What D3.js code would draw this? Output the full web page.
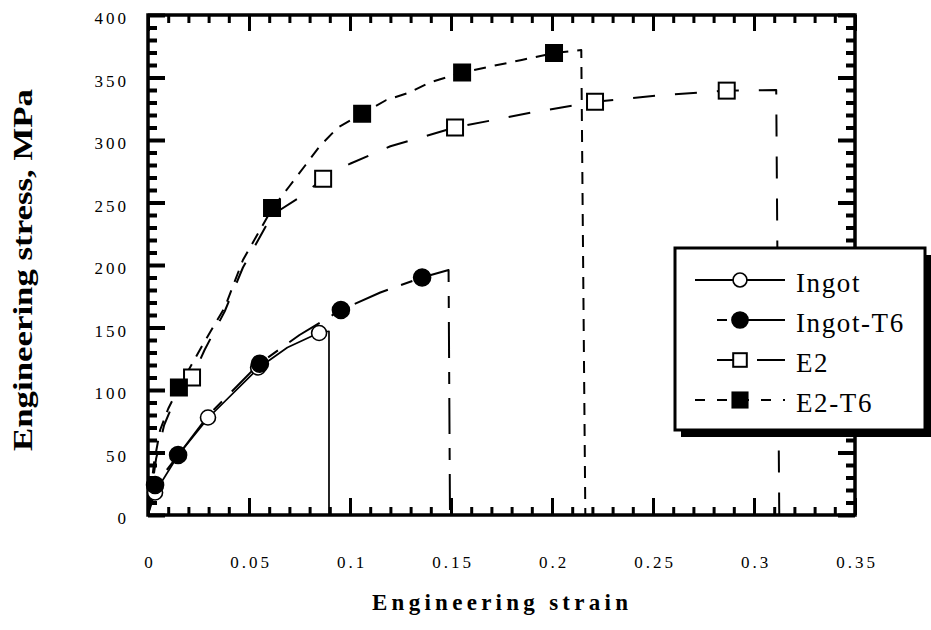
<!DOCTYPE html>
<html><head><meta charset="utf-8">
<script src="https://cdn.jsdelivr.net/npm/d3@7"></script>
<style>body{margin:0;background:#fff}svg{display:block}</style>
</head><body>
<svg id="chart" width="931" height="630"></svg>
<script>
// ---------- data ----------
const xTickValues = [0, 0.05, 0.1, 0.15, 0.2, 0.25, 0.3, 0.35];
const xTickLabels = ["0", "0.05", "0.1", "0.15", "0.2", "0.25", "0.3", "0.35"];
const yTickValues = [0, 50, 100, 150, 200, 250, 300, 350, 400];
const yTickLabels = ["0", "50", "100", "150", "200", "250", "300", "350", "400"];
const seriesNames = ["Ingot", "Ingot-T6", "E2", "E2-T6"];

const ingotCurveStrain = [0, 0.0035, 0.015, 0.03, 0.055, 0.069, 0.085, 0.0896, 0.0896];
const ingotCurveStress = [0, 18, 48, 78, 118, 134, 146, 147, 0];
const ingotMarkStrain = [0.0035, 0.0297, 0.0545, 0.0847];
const ingotMarkStress = [18, 78, 118, 145.6];

const ingotT6CurveStrain = [0, 0.0035, 0.015, 0.03, 0.055, 0.075, 0.0955, 0.115, 0.1357, 0.1488, 0.1495];
const ingotT6CurveStress = [0, 24, 48, 80, 121, 144, 164, 178, 190, 196, 0];
const ingotT6MarkStrain = [0.0035, 0.0149, 0.0554, 0.0955, 0.1357];
const ingotT6MarkStress = [24, 48, 121, 164, 190];

const e2CurveStrain = [0, 0.004, 0.008, 0.014, 0.0218, 0.028, 0.038, 0.047, 0.0614, 0.075, 0.0867, 0.1, 0.12, 0.152, 0.19, 0.2213, 0.255, 0.2865, 0.311, 0.3125];
const e2CurveStress = [0, 45, 72, 95, 110, 132, 163, 198, 240, 254, 269, 281, 295, 310, 322, 330.6, 336, 339.5, 340, 0];
const e2MarkStrain = [0.0218, 0.0867, 0.152, 0.2213, 0.2865];
const e2MarkStress = [110, 269, 310, 330.6, 339.5];

const e2T6CurveStrain = [0, 0.003, 0.006, 0.01, 0.0153, 0.027, 0.038, 0.047, 0.0614, 0.07, 0.078, 0.085, 0.094, 0.106, 0.118, 0.1295, 0.1395, 0.1555, 0.17, 0.185, 0.201, 0.2145, 0.2165];
const e2T6CurveStress = [0, 42, 68, 85, 102, 136, 166, 204, 245, 263, 280, 295, 310, 321, 332, 338, 346, 354, 359, 364, 369.6, 372, 0];
const e2T6MarkStrain = [0.0153, 0.0614, 0.106, 0.1555, 0.201];
const e2T6MarkStress = [102, 245.6, 321, 354, 369.6];

// ---------- layout ----------
const svg = d3.select("#chart");
const L = 148, R = 855, T = 15, B = 515;
const x = d3.scaleLinear().domain([0, 0.35]).range([L, R]);
const y = d3.scaleLinear().domain([0, 400]).range([B, T]);
const FONT = "'Liberation Serif','Times New Roman',serif";

const zip = (a, b) => a.map((v, i) => [v, b[i]]);
const series = [
  {name: seriesNames[0], curve: zip(ingotCurveStrain, ingotCurveStress), marks: zip(ingotMarkStrain, ingotMarkStress), shape: "circle", fill: "#fff", dash: null, width: 1.7, size: 7.5},
  {name: seriesNames[1], curve: zip(ingotT6CurveStrain, ingotT6CurveStress), marks: zip(ingotT6MarkStrain, ingotT6MarkStress), shape: "circle", fill: "#000", dash: "36,14,12,14", width: 2, size: 8.5},
  {name: seriesNames[2], curve: zip(e2CurveStrain, e2CurveStress), marks: zip(e2MarkStrain, e2MarkStress), shape: "square", fill: "#fff", dash: "22,20", width: 2, size: 16},
  {name: seriesNames[3], curve: zip(e2T6CurveStrain, e2T6CurveStress), marks: zip(e2T6MarkStrain, e2T6MarkStress), shape: "square", fill: "#000", dash: "12,9", width: 2, size: 18}
];

// ---------- ticks ----------
const minorX = d3.range(0, 36).map(i => i / 100).filter(v => Math.round(v * 100) % 5 !== 0);
const minorY = d3.range(0, 41).map(i => i * 10).filter(v => v % 50 !== 0);

function styleTicks(g, w) {
  g.select(".domain").remove();
  g.selectAll(".tick line").attr("stroke", "#000").attr("stroke-width", w);
}
// bottom
svg.append("g").attr("transform", `translate(0,${B})`)
  .call(d3.axisBottom(x).tickValues(minorX).tickSizeInner(-8).tickSizeOuter(0).tickFormat(""))
  .call(g => styleTicks(g, 3));
const bx = svg.append("g").attr("transform", `translate(0,${B})`)
  .call(d3.axisBottom(x).tickValues(xTickValues).tickSizeInner(-17).tickSizeOuter(0)
    .tickPadding(41).tickFormat((d, i) => xTickLabels[i]))
  .call(g => styleTicks(g, 3));
bx.selectAll("text").attr("font-family", FONT).attr("font-size", 17).attr("fill", "#000")
  .attr("letter-spacing", 3).attr("dx", 1.5);
// top
svg.append("g").attr("transform", `translate(0,${T})`)
  .call(d3.axisTop(x).tickValues(minorX).tickSizeInner(-8).tickSizeOuter(0).tickFormat(""))
  .call(g => styleTicks(g, 3));
svg.append("g").attr("transform", `translate(0,${T})`)
  .call(d3.axisTop(x).tickValues(xTickValues).tickSizeInner(-16).tickSizeOuter(0).tickFormat(""))
  .call(g => styleTicks(g, 3));
// left
svg.append("g").attr("transform", `translate(${L},0)`)
  .call(d3.axisLeft(y).tickValues(minorY).tickSizeInner(-9).tickSizeOuter(0).tickFormat(""))
  .call(g => styleTicks(g, 4));
const ly = svg.append("g").attr("transform", `translate(${L},0)`)
  .call(d3.axisLeft(y).tickValues(yTickValues).tickSizeInner(-17).tickSizeOuter(0)
    .tickPadding(19).tickFormat((d, i) => yTickLabels[i]))
  .call(g => styleTicks(g, 4));
ly.selectAll("text").attr("font-family", FONT).attr("font-size", 17).attr("fill", "#000")
  .attr("letter-spacing", 3).attr("dy", "0.52em");
// right
svg.append("g").attr("transform", `translate(${R},0)`)
  .call(d3.axisRight(y).tickValues(minorY).tickSizeInner(-9).tickSizeOuter(0).tickFormat(""))
  .call(g => styleTicks(g, 4));
svg.append("g").attr("transform", `translate(${R},0)`)
  .call(d3.axisRight(y).tickValues(yTickValues).tickSizeInner(-17).tickSizeOuter(0).tickFormat(""))
  .call(g => styleTicks(g, 4));

// frame
svg.append("rect").attr("x", L).attr("y", T).attr("width", R - L).attr("height", B - T)
  .attr("fill", "none").attr("stroke", "#000").attr("stroke-width", 3.5);

// ---------- curves ----------
const line = d3.line().x(d => x(d[0])).y(d => y(d[1]));
series.forEach(s => {
  svg.append("path").attr("d", line(s.curve)).attr("fill", "none").attr("stroke", "#000")
    .attr("stroke-width", s.width).attr("stroke-dasharray", s.dash)
    .attr("stroke-linejoin", "round");
});
function drawMarker(g, s, cx, cy, scale) {
  const k = scale || 1;
  if (s.shape === "circle") {
    g.append("circle").attr("cx", cx).attr("cy", cy).attr("r", s.size * k)
      .attr("fill", s.fill).attr("stroke", "#000").attr("stroke-width", 1.6);
  } else {
    const h = s.size * k;
    g.append("rect").attr("x", cx - h / 2).attr("y", cy - h / 2).attr("width", h).attr("height", h)
      .attr("fill", s.fill).attr("stroke", "#000").attr("stroke-width", s.fill === "#000" ? 0 : 2);
  }
}
series.forEach(s => {
  const g = svg.append("g");
  s.marks.forEach(d => drawMarker(g, s, x(d[0]), y(d[1])));
});

// ---------- legend ----------
const lg = svg.append("g");
lg.append("rect").attr("x", 681).attr("y", 255).attr("width", 250).attr("height", 182).attr("fill", "#000");
lg.append("rect").attr("x", 675).attr("y", 248).attr("width", 250).attr("height", 182)
  .attr("fill", "#fff").attr("stroke", "#000").attr("stroke-width", 3);
const legendDash = [null, "0,22,10,6,60", "0,22,18,22,26", "10,12"];
const legendMarkScale = [0.93, 0.95, 0.85, 0.95];
series.forEach((s, i) => {
  const cy = 280 + i * 40;
  lg.append("line").attr("x1", 695).attr("x2", 785).attr("y1", cy).attr("y2", cy)
    .attr("stroke", "#000").attr("stroke-width", 1.8).attr("stroke-dasharray", legendDash[i]);
  drawMarker(lg, s, 740, cy, legendMarkScale[i]);
  lg.append("text").attr("x", 796).attr("y", cy + 12).text(s.name)
    .attr("font-family", FONT).attr("font-size", 27).attr("letter-spacing", 1.6).attr("fill", "#000");
});

// ---------- titles ----------
svg.append("text").attr("x", 500).attr("y", 610).attr("text-anchor", "middle")
  .attr("font-family", FONT).attr("font-weight", "bold").attr("font-size", 23)
  .attr("textLength", 256).attr("lengthAdjust", "spacing")
  .text("Engineering strain");
svg.append("text").attr("transform", "translate(32,270) rotate(-90)").attr("text-anchor", "middle")
  .attr("font-family", FONT).attr("font-weight", "bold").attr("font-size", 27)
  .attr("textLength", 362).attr("lengthAdjust", "spacingAndGlyphs")
  .text("Engineering stress, MPa");
</script>
</body></html>
